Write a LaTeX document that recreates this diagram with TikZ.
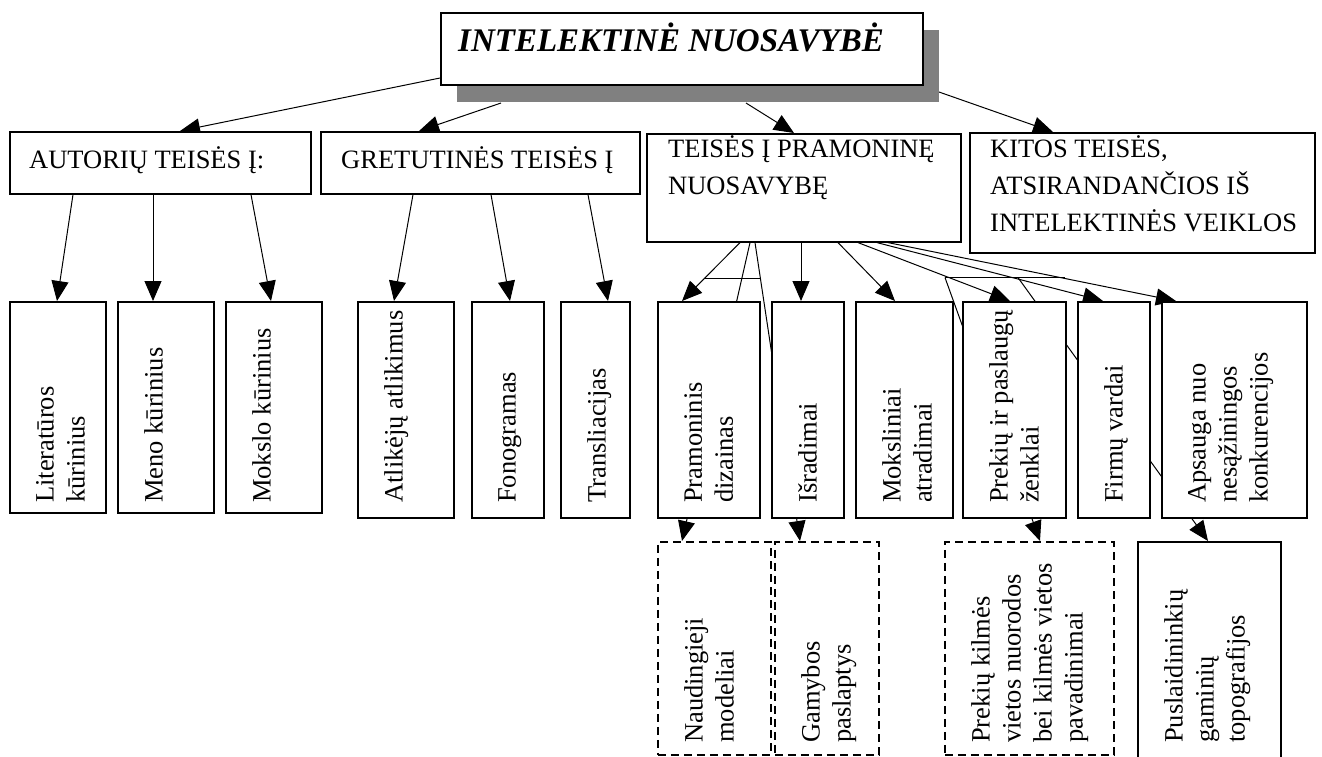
\documentclass[tikz,border=0pt]{standalone}
\usepackage{fontspec}
\setmainfont{Liberation Serif}
\usetikzlibrary{arrows.meta, shadows, backgrounds}

\newcommand{\horfnt}{\fontsize{26.5}{37}\selectfont}
\newcommand{\verfnt}{\fontsize{26.5}{31}\selectfont}

\tikzset{
    box/.style = {draw, fill=white, line width=1.6pt, anchor=north west, inner sep=0pt},
    dbox/.style = {box, dash pattern=on 8pt off 5pt},
    hlab/.style = {anchor=base west, align=left, inner sep=0pt, font=\horfnt},
    vlab/.style = {rotate=90, anchor=north west, align=left, inner sep=0pt, font=\verfnt},
    arr/.style = {-{Triangle[length=20pt, width=17pt]}, line width=1pt},
    link/.style = {line width=1pt}
}

\begin{document}
\begin{tikzpicture}[x=1pt, y=-1pt]
    \useasboundingbox (0,0) rectangle (1322,756);

    \node[box, line width=2pt, minimum width=482pt, minimum height=72pt,
          drop shadow={shadow xshift=16pt, shadow yshift=-17pt, fill=gray, opacity=1}] (ip) at (440,12) {};
    \node[anchor=base west, inner sep=0pt, font=\fontsize{33}{40}\selectfont\bfseries\itshape] (ip-t) at (458,51) {INTELEKTINĖ NUOSAVYBĖ};

    % second row
    \node[box, minimum width=301pt, minimum height=62pt] (autor) at (9,131) {};
    \node[hlab] (autor-t) at (29,168) {AUTORIŲ TEISĖS Į:};
    \node[box, minimum width=319pt, minimum height=62pt] (gret) at (320,131) {};
    \node[hlab] (gret-t) at (341,168) {GRETUTINĖS TEISĖS Į};
    \node[box, minimum width=314pt, minimum height=108pt] (pram) at (646,133) {};
    \node[hlab] (pram-t) at (668,194) {TEISĖS Į PRAMONINĘ\\NUOSAVYBĘ};
    \node[box, minimum width=345pt, minimum height=120pt] (kitos) at (969,132) {};
    \node[hlab] (kitos-t) at (990,231) {KITOS TEISĖS,\\ATSIRANDANČIOS IŠ\\INTELEKTINĖS VEIKLOS};

    % third row
    \foreach \nm/\xa/\w/\h/\txt in {
        lit/9/96/211/{Literatūros\\kūrinius},
        meno/117/96/211/{Meno kūrinius},
        mokslo/225/96/211/{Mokslo kūrinius},
        atlik/357/96/216/{Atlikėjų atlikimus},
        fono/471/72/216/{Fonogramas},
        trans/560/69/216/{Transliacijas},
        dizain/657/102/216/{Pramoninis\\dizainas},
        isrd/771/72/216/{Išradimai},
        atrad/855/97/216/{Moksliniai\\atradimai},
        zenkl/962/103/216/{Prekių ir paslaugų\\ženklai},
        firm/1077/72/216/{Firmų vardai},
        apsg/1161/145/216/{Apsauga nuo\\nesąžiningos\\konkurencijos}}
    {
        \node[box, minimum width=\w pt, minimum height=\h pt] (\nm) at (\xa,301) {};
        \node[vlab] (\nm-t) at ([xshift=27pt, yshift=-202pt]\nm.north west) {\txt};
    }

    % bottom row
    \foreach \nm/\xa/\w/\h/\st/\txt in {
        naud/657/113/213/dbox/{Naudingieji\\modeliai},
        gamyb/774/104/213/dbox/{Gamybos\\paslaptys},
        kilm/944/169/213/dbox/{Prekių kilmės\\vietos nuorodos\\bei kilmės vietos\\pavadinimai},
        topo/1137/143/222/box/{Puslaidininkių\\gaminių\\topografijos}}
    {
        \node[\st, minimum width=\w pt, minimum height=\h pt] (\nm) at (\xa,541) {};
        \node[vlab] (\nm-t) at ([xshift=27pt, yshift=-202pt]\nm.north west) {\txt};
    }

    \begin{scope}[on background layer]
        \draw[arr] ([yshift=8pt]ip.south west) -- ([xshift=171pt]autor.north west);
        \draw[arr] ([xshift=61pt, yshift=-17pt]ip.south west) -- ([xshift=99pt]gret.north west);
        \draw[arr] ([xshift=306pt, yshift=-17pt]ip.south west) -- ([xshift=148pt]pram.north west);
        \draw[arr] ([xshift=15pt, yshift=-6pt]ip.south east) -- ([xshift=84pt]kitos.north west);

        \draw[arr] ([xshift=64pt]autor.south west) -- ([xshift=48pt]lit.north west);
        \draw[arr] ([xshift=144pt]autor.south west) -- ([xshift=36pt]meno.north west);
        \draw[arr] ([xshift=242pt]autor.south west) -- ([xshift=46pt]mokslo.north west);
        \draw[arr] ([xshift=93pt]gret.south west) -- ([xshift=37pt]atlik.north west);
        \draw[arr] ([xshift=171pt]gret.south west) -- ([xshift=39pt]fono.north west);
        \draw[arr] ([xshift=268pt]gret.south west) -- ([xshift=48pt]trans.north west);

        \draw[arr] ([xshift=94pt]pram.south west) -- ([xshift=25pt]dizain.north west);
        \draw[arr] ([xshift=104pt]pram.south west) -- ([xshift=25pt]naud.north west);
        \draw[arr] ([xshift=109pt]pram.south west) -- ([xshift=26pt]gamyb.north west);
        \draw[link] ([xshift=58pt, yshift=-36pt]pram.south west) -- ++(56,0);
        \draw[arr] ([xshift=155pt]pram.south west) -- ([xshift=30pt]isrd.north west);
        \draw[arr] ([xshift=192pt]pram.south west) -- ([xshift=40pt]atrad.north west);
        \draw[arr] ([xshift=212pt]pram.south west) -- ([xshift=48pt]zenkl.north west);
        \draw[arr] ([xshift=231pt]pram.south west) -- ([xshift=26pt]firm.north west);
        \draw[arr] ([xshift=242pt]pram.south west) -- ([xshift=15pt]apsg.north west);

        \coordinate (ja) at ([xshift=299pt, yshift=-35pt]pram.south west);
        \coordinate (jb) at ([xshift=372pt, yshift=-35pt]pram.south west);
        \draw[link] (ja) -- ++(120,0);
        \draw[arr] (ja) -- ([xshift=96pt]kilm.north west);
        \draw[arr] (jb) -- ([xshift=71pt]topo.north west);
    \end{scope}
\end{tikzpicture}
\end{document}
